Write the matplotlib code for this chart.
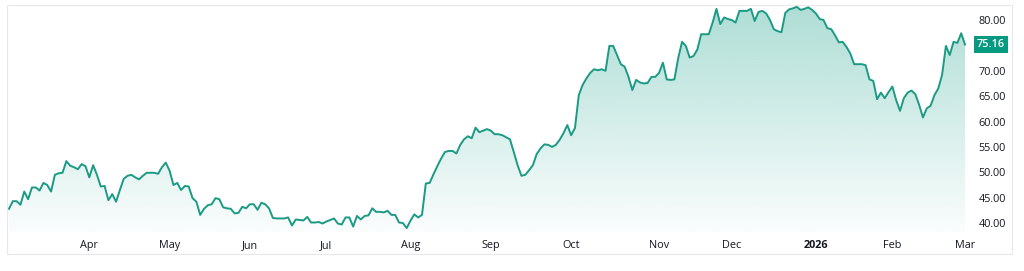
import numpy as np
import pandas as pd
import matplotlib
matplotlib.use("Agg")
import matplotlib.pyplot as plt
import matplotlib.transforms as mtransforms
from matplotlib.patches import Rectangle

# daily closes, Mar 3 2025 .. Mar 2 2026 (trading days)
closes = [
    42.8, 44.3, 44.3, 43.6, 46.2, 44.7, 47.0, 47.0, 46.4, 47.9,
    47.5, 46.2, 49.5, 49.8, 49.9, 52.2, 51.3, 51.0, 50.6, 51.6,
    51.2, 49.0, 51.4, 49.5, 47.2, 47.3, 44.5, 45.7, 44.2, 46.5,
    48.7, 49.3, 49.5, 49.0, 48.6, 49.3, 49.9, 49.9, 49.9, 49.7,
    51.0, 51.9, 50.3, 47.5, 47.9, 46.5, 47.3, 47.2, 44.9, 44.2,
    41.6, 42.8, 43.5, 43.7, 44.9, 44.7, 43.1, 42.9, 42.8, 41.9,
    42.0, 43.2, 42.9, 43.7, 43.7, 42.6, 44.0, 43.7, 42.9, 41.0,
    40.9, 40.9, 40.9, 41.1, 39.5, 40.7, 40.6, 40.5, 41.2, 40.1,
    40.1, 40.2, 39.9, 40.3, 40.6, 40.9, 39.9, 39.7, 41.1, 41.1,
    39.3, 41.4, 40.7, 41.4, 41.5, 42.9, 42.2, 42.2, 42.1, 42.4,
    41.6, 41.6, 40.1, 40.0, 39.0, 40.5, 41.7, 41.1, 41.6, 47.8,
    47.9, 49.6, 51.2, 52.7, 54.0, 54.2, 54.2, 53.7, 55.4, 56.5,
    57.1, 56.7, 58.8, 57.9, 58.2, 58.5, 58.2, 57.5, 57.5, 57.3,
    56.9, 56.5, 54.0, 51.4, 49.3, 49.5, 50.4, 51.4, 53.6, 54.7,
    55.5, 55.4, 55.0, 55.4, 56.4, 57.7, 59.3, 57.3, 58.7, 65.2,
    67.2, 68.5, 69.6, 70.3, 70.1, 70.3, 70.0, 74.9, 74.9, 73.1,
    71.3, 70.8, 68.8, 66.2, 68.2, 67.7, 67.5, 67.6, 68.8, 68.8,
    69.6, 71.6, 68.3, 68.2, 68.3, 72.5, 75.7, 74.9, 72.6, 72.9,
    74.2, 77.2, 77.2, 77.2, 79.5, 82.2, 79.2, 80.5, 80.2, 80.0,
    79.5, 81.8, 81.8, 81.8, 82.2, 79.8, 81.6, 81.8, 81.3, 80.0,
    78.2, 77.8, 77.6, 81.4, 82.1, 82.3, 82.6, 82.0, 82.2, 82.5,
    82.0, 81.3, 80.2, 80.0, 78.4, 78.2, 77.0, 75.6, 75.7, 74.7,
    73.4, 71.3, 71.3, 71.3, 71.1, 68.3, 68.0, 64.4, 65.7, 64.6,
    65.8, 66.9, 64.2, 62.1, 64.6, 65.7, 66.1, 65.4, 63.3, 60.8,
    62.6, 63.1, 65.2, 66.5, 69.2, 74.9, 73.1, 75.7, 75.5, 77.4,
    75.16,
]
holidays = ["2025-04-18", "2025-05-26", "2025-06-19", "2025-07-04", "2025-09-01",
            "2025-11-27", "2025-12-25", "2026-01-01", "2026-01-19", "2026-02-16"]
price_ticks = [40, 45, 50, 55, 60, 65, 70, 80]
last_price = 75.16

GREEN = "#089981"
LINE = "#1b9a84"
TXT = "#131722"
FONT = "Open Sans"

dates = pd.bdate_range("2025-03-03", "2026-03-02", freq="C", holidays=holidays)
dates = dates[:len(closes)]
x = np.arange(len(closes))
y = np.array(closes)

fig = plt.figure(figsize=(10.24, 2.71), dpi=100)
W, H = 1024, 271
ax = fig.add_axes([7 / W, 1 - 232 / H, 963 / W, 227 / H])
ax.set_xlim(-0.52, 251.3)
ax.set_ylim(38.23, 82.96)

# gradient area under the line
ymin, ymax = ax.get_ylim()
grad = np.linspace(0.02, 0.33, 256).reshape(-1, 1)
rgba = np.zeros((256, 1, 4))
rgba[..., 0] = 8 / 255
rgba[..., 1] = 153 / 255
rgba[..., 2] = 129 / 255
rgba[..., 3] = grad
poly = ax.fill_between(x, y, ymin, color="none", lw=0)
img = ax.imshow(rgba, aspect="auto", origin="lower",
                extent=[x[0], x[-1], ymin, ymax], interpolation="bicubic", zorder=1)
img.set_clip_path(poly.get_paths()[0], transform=ax.transData)
ax.set_xlim(-0.52, 251.3)
ax.set_ylim(ymin, ymax)

ax.plot(x, y, color=LINE, lw=1.4, zorder=3, solid_joinstyle="round")

for s in ax.spines.values():
    s.set_visible(False)

# month ticks
tick_pos, tick_lab = [], []
for i in range(1, len(dates)):
    if dates[i].month != dates[i - 1].month:
        tick_pos.append(i)
        tick_lab.append(str(dates[i].year) if dates[i].month == 1 else dates[i].strftime("%b"))
ax.set_xticks(tick_pos)
ax.set_xticklabels(tick_lab)
ax.tick_params(axis="x", length=0, pad=6, labelsize=7.8, labelcolor=TXT)
for t in ax.get_xticklabels():
    t.set_fontfamily(FONT)
    if t.get_text() == "2026":
        t.set_fontweight("bold")

ax.yaxis.tick_right()
ax.set_yticks(price_ticks)
ax.set_yticklabels([f"{v:.2f}" for v in price_ticks])
ax.tick_params(axis="y", length=0, pad=6, labelsize=7.8, labelcolor=TXT)
for t in ax.get_yticklabels():
    t.set_fontfamily(FONT)

trans = mtransforms.blended_transform_factory(ax.transAxes, ax.transData)
ax.text(1.0 + 7 / 963, last_price, f"{last_price:.2f}", transform=trans,
        ha="left", va="center", color="white", fontsize=7.8, fontweight="semibold",
        family=FONT,
        bbox=dict(boxstyle="square,pad=0.3", fc=GREEN, ec="none"), zorder=5)

fig.patches.append(Rectangle((7 / W, 1 - 254 / H), 1005 / W, 249 / H,
                             transform=fig.transFigure, fill=False,
                             ec="#e6e8ec", lw=0.8))

fig.savefig("out.png", dpi=100, facecolor="white")
